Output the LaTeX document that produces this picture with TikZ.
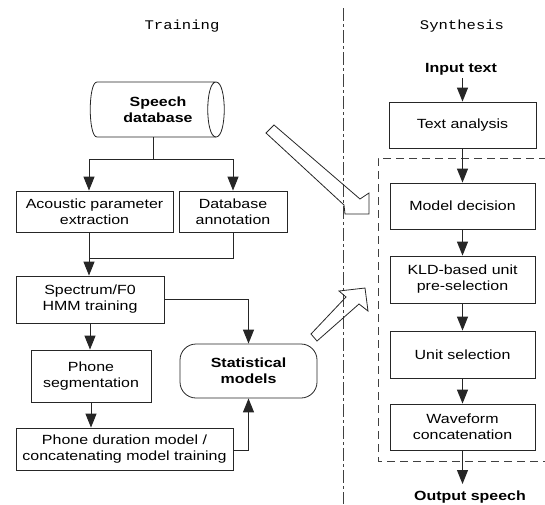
\documentclass[tikz,border=0pt]{standalone}
\usepackage{fontspec}
\setmainfont{Liberation Sans}[FakeStretch=1.2]
\setmonofont{Liberation Mono}[FakeStretch=1.18]
\usetikzlibrary{arrows.meta}
\begin{document}
\begin{tikzpicture}[x=1pt,y=-1pt,
  font=\fontsize{13.3}{16}\selectfont,
  box/.style={draw=black!85, line width=0.8pt, align=center, inner sep=0pt},
  boldtext/.style={font=\fontsize{13.3}{16}\selectfont\bfseries, align=center},
  monotext/.style={font=\fontsize{13.2}{16}\selectfont\ttfamily},
  arr/.style={draw=black!85, line width=1pt, -{Triangle[length=14pt,width=11pt]}},
  ln/.style={draw=black!85, line width=1pt},
  hollow/.style={draw=black!85, line width=0.8pt, line join=miter},
  divider/.style={draw=black!75, line width=0.8pt, dash pattern=on 13pt off 3pt on 3pt off 3pt},
  group/.style={draw=black!75, line width=0.8pt, dash pattern=on 8pt off 5pt}]
\useasboundingbox (0,0) rectangle (545,504);

% titles
\node[monotext, anchor=base] (train) at (182,29) {Training};
\node[monotext, anchor=base] (syn) at (462,29) {Synthesis};

% divider
\draw[divider] (343,8) -- (343,504);

% cylinder (speech database)
\draw[draw=black!85, line width=0.8pt]
  (97,82) -- (216,82)
  .. controls (227,82) and (227,137) .. (216,137)
  .. controls (205,137) and (205,82) .. (216,82);
\draw[draw=black!85, line width=0.8pt]
  (216,137) -- (97,137)
  .. controls (88,137) and (88,82) .. (97,82);
\node[boldtext, minimum width=134pt, minimum height=55pt, inner sep=0pt] (cyl) at (158,109.5) {Speech\\database};

% training boxes
\node[box, minimum width=157pt, minimum height=41pt] (acou) at (94.5,211.5) {Acoustic parameter\\extraction};
\node[box, minimum width=108pt, minimum height=41pt] (dban) at (233,211.5) {Database\\annotation};
\node[box, minimum width=148pt, minimum height=47pt] (spec) at (90,299.5) {Spectrum/F0\\HMM training};
\node[box, minimum width=120pt, minimum height=52pt] (seg) at (91,376) {Phone\\segmentation};
\node[box, minimum width=217pt, minimum height=42pt] (dur) at (124.5,449) {Phone duration model /\\concatenating model training};
\node[box, boldtext, rounded corners=16pt, minimum width=137pt, minimum height=54pt] (stat) at (248.5,371) {Statistical\\models};

% training connectors
\coordinate (split) at (153,159);
\coordinate (join) at (89,258);
\draw[ln] ([xshift=-5pt]cyl.south) -- (split);
\draw[arr] (split) -| ([xshift=-5.5pt]acou.north);
\draw[arr] (split) -| (dban.north);
\draw[ln] ([xshift=-5.5pt]acou.south) -- (join) -| (dban.south);
\draw[arr] (join) -- (spec.north -| join);
\draw[arr] ([yshift=0.5pt]spec.east) -| (stat.north);
\draw[arr] (spec.south) -- (spec.south |- seg.north);
\draw[arr] (seg.south) -- (seg.south |- dur.north);
\draw[arr] ([yshift=-1pt]dur.east) -| (stat.south);

% synthesis
\node[boldtext, anchor=base] (in) at (461,72) {Input text};
\node[box, minimum width=147pt, minimum height=46pt] (ta) at (462.5,125) {Text analysis};
\node[box, minimum width=145pt, minimum height=46pt] (md) at (462.5,206) {Model decision};
\node[box, minimum width=145pt, minimum height=47pt] (kld) at (462.5,279.5) {KLD-based unit\\pre-selection};
\node[box, minimum width=145pt, minimum height=47pt] (us) at (462.5,354.5) {Unit selection};
\node[box, minimum width=145pt, minimum height=46pt] (wf) at (462.5,427) {Waveform\\concatenation};
\node[boldtext, anchor=base] (out) at (470,500) {Output speech};

\draw[group] (560,158) -- (378,158) -- (378,461) -- (560,461);

\draw[arr] (in.south -| ta.north) -- (ta.north);
\draw[arr] (ta.south) -- (md.north);
\draw[arr] (md.south) -- (kld.north);
\draw[arr] (kld.south) -- (us.north);
\draw[arr] (us.south) -- (wf.north);
\draw[arr] (wf.south) -- (wf.south |- 0,484);

% hollow arrows
\draw[hollow] (274,125) -- (360,199) -- (369,193) -- (369,214) -- (345,214) -- (344,205) -- (266,133) -- cycle;
\draw[hollow] (311,334) -- (346,297) -- (339,291) -- (365,288) -- (368,311) -- (359,304) -- (317,341) -- cycle;
\end{tikzpicture}
\end{document}
